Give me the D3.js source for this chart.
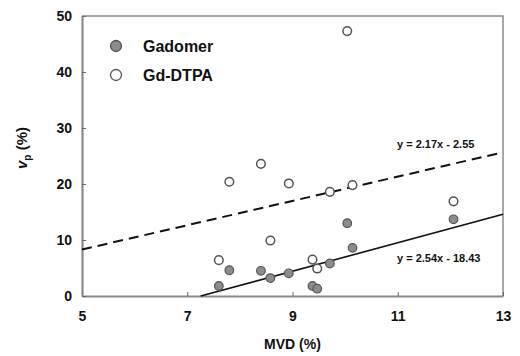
<!DOCTYPE html>
<html>
<head>
<meta charset="utf-8">
<script src="https://cdn.jsdelivr.net/npm/d3@7"></script>
<style>
  body { margin: 0; background: #fff; }
  text { font-family: "Liberation Sans", Arial, sans-serif; font-weight: bold; }
</style>
</head>
<body>
<svg id="chart" width="520" height="356"></svg>
<script>
// MVD (%) values, shared by both agents
var mvd = [7.6, 7.8, 8.4, 8.58, 8.93, 9.38, 9.47, 9.71, 10.04, 10.14, 12.06];
// vp (%) values
var gadomerVp = [1.8, 4.6, 4.5, 3.2, 4.05, 1.8, 1.3, 5.8, 13.0, 8.6, 13.7];
var gdDtpaVp = [6.4, 20.4, 23.6, 9.9, 20.1, 6.5, 4.9, 18.6, 47.3, 19.8, 16.9];

var xTicks = [5, 7, 9, 11, 13];
var yTicks = [0, 10, 20, 30, 40, 50];

// regression lines: slope, intercept
var gadomerFit = [2.54, -18.43];
var gdDtpaFit = [2.17, -2.55];

var svg = d3.select('#chart');
var plot = { left: 82, right: 503, top: 16, bottom: 296 };

var x = d3.scaleLinear().domain([5, 13]).range([plot.left, plot.right]);
var y = d3.scaleLinear().domain([0, 50]).range([plot.bottom, plot.top]);

//frame (top + right)
svg.append('path')
  .attr('d', 'M' + plot.left + ',' + plot.top + 'H' + plot.right + 'V' + plot.bottom)
  .attr('fill', 'none')
  .attr('stroke', '#8a8a8a')
  .attr('stroke-width', 1.5);

var xAxis = svg.append('g')
  .attr('transform', 'translate(0,' + plot.bottom + ')')
  .call(d3.axisBottom(x).tickValues(xTicks).tickSizeInner(-4).tickSizeOuter(0).tickPadding(15));
var yAxis = svg.append('g')
  .attr('transform', 'translate(' + plot.left + ',0)')
  .call(d3.axisLeft(y).tickValues(yTicks).tickSizeInner(-4).tickSizeOuter(0).tickPadding(10));

[xAxis, yAxis].forEach(function (ax) {
  ax.select('.domain').attr('stroke', '#8a8a8a').attr('stroke-width', 2.2);
  ax.selectAll('.tick line').attr('stroke', '#666').attr('stroke-width', 1);
  ax.selectAll('.tick text')
    .attr('font-size', 14)
    .attr('fill', '#111')
    .style('font-family', '"Liberation Sans", Arial, sans-serif')
    .style('font-weight', 'bold');
});

//axis titles
svg.append('text')
  .attr('x', x(9)).attr('y', 349)
  .attr('text-anchor', 'middle')
  .attr('font-size', 14)
  .attr('fill', '#111')
  .text('MVD (%)');

var yTitle = svg.append('text')
  .attr('transform', 'translate(27,148) rotate(-90)')
  .attr('text-anchor', 'middle')
  .attr('font-size', 15)
  .attr('fill', '#111');
yTitle.append('tspan').attr('font-style', 'italic').text('v');
yTitle.append('tspan').attr('font-size', 10).attr('dy', 4).text('p');
yTitle.append('tspan').attr('dy', -4).text(' (%)');

//regression lines
function fitLine(fit, x0, x1) {
  return [[x0, fit[0] * x0 + fit[1]], [x1, fit[0] * x1 + fit[1]]];
}
var line = d3.line().x(function (d) { return x(d[0]); }).y(function (d) { return y(d[1]); });

svg.append('path')
  .attr('d', line(fitLine(gdDtpaFit, 5, 13)))
  .attr('fill', 'none')
  .attr('stroke', '#111')
  .attr('stroke-width', 2)
  .attr('stroke-dasharray', '10,6');

svg.append('path')
  .attr('d', line(fitLine(gadomerFit, -gadomerFit[1] / gadomerFit[0], 13)))
  .attr('fill', 'none')
  .attr('stroke', '#111')
  .attr('stroke-width', 1.6);

//points
svg.append('g').selectAll('circle')
  .data(mvd)
  .enter()
  .append('circle')
  .attr('cx', function (d) { return x(d); })
  .attr('cy', function (d, i) { return y(gdDtpaVp[i]); })
  .attr('r', 4.3)
  .attr('fill', '#fff')
  .attr('stroke', '#555')
  .attr('stroke-width', 1.5);

svg.append('g').selectAll('circle')
  .data(mvd)
  .enter()
  .append('circle')
  .attr('cx', function (d) { return x(d); })
  .attr('cy', function (d, i) { return y(gadomerVp[i]); })
  .attr('r', 4.3)
  .attr('fill', '#8c8c8c')
  .attr('stroke', '#555')
  .attr('stroke-width', 1.2);

//equations
svg.append('text')
  .attr('x', 397).attr('y', 148)
  .attr('font-size', 11)
  .attr('fill', '#111')
  .text('y = 2.17x - 2.55');
svg.append('text')
  .attr('x', 397).attr('y', 262)
  .attr('font-size', 11)
  .attr('fill', '#111')
  .text('y = 2.54x - 18.43');

//legend
var legendItems = [
  { label: 'Gadomer', fill: '#8c8c8c' },
  { label: 'Gd-DTPA', fill: '#fff' }
];
var legend = svg.append('g');
legendItems.forEach(function (item, i) {
  var ly = 46 + i * 29;
  legend.append('circle')
    .attr('cx', 116).attr('cy', ly).attr('r', 5.5)
    .attr('fill', item.fill)
    .attr('stroke', '#555')
    .attr('stroke-width', 1.3);
  legend.append('text')
    .attr('x', 143).attr('y', ly + 6)
    .attr('font-size', 16)
    .attr('fill', '#111')
    .text(item.label);
});
</script>
</body>
</html>
